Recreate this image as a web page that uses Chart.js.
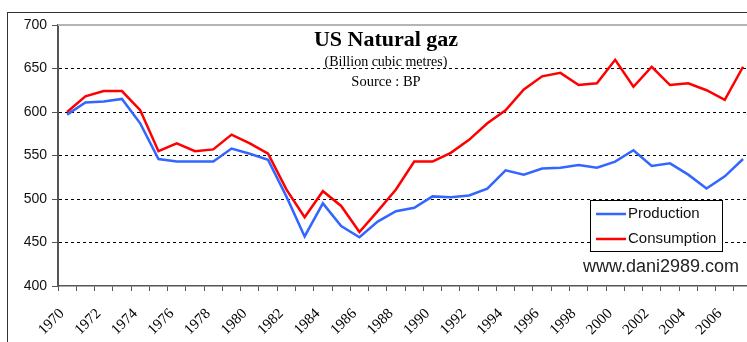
<!DOCTYPE html>
<html>
<head>
<meta charset="utf-8">
<script src="https://cdn.jsdelivr.net/npm/chart.js@4.4.1/dist/chart.umd.min.js"></script>
<style>
  html, body { margin: 0; padding: 0; background: #fff; }
  #wrap { width: 747px; height: 342px; overflow: hidden; }
  #chart { display: block; }
</style>
</head>
<body>
<div id="wrap"><canvas id="chart" width="770" height="342"></canvas></div>
<script>
const years = ['1970','1971','1972','1973','1974','1975','1976','1977','1978','1979',
               '1980','1981','1982','1983','1984','1985','1986','1987','1988','1989',
               '1990','1991','1992','1993','1994','1995','1996','1997','1998','1999',
               '2000','2001','2002','2003','2004','2005','2006','2007'];

// billion cubic metres
const production = [597, 611, 612, 615, 587, 546, 543, 543, 543, 558,
                    552, 545, 503, 457, 495, 469, 456, 474, 486, 490,
                    503, 502, 504, 512, 533, 528, 535, 536, 539, 536,
                    543, 556, 538, 541, 528, 512, 526, 546];

const consumption = [600, 618, 624, 624, 602, 555, 564, 555, 557, 574,
                     564, 552, 511, 479, 509, 492, 462, 486, 511, 543,
                     543, 553, 568, 587, 602, 626, 641, 645, 631, 633,
                     660, 629, 652, 631, 633, 625, 614, 652];

const yMin = 400;
const yMax = 700;
const yStep = 50;

const titleText = 'US Natural gaz';
const subtitleText = '(Billion cubic metres)';
const sourceText = 'Source : BP';
const siteText = 'www.dani2989.com';

const decorations = {
    id: 'decorations',
    beforeDraw(chart) {
        const ctx = chart.ctx;
        ctx.save();
        ctx.fillStyle = '#fff';
        ctx.fillRect(0, 0, chart.width, chart.height);
        ctx.strokeStyle = '#333';
        ctx.lineWidth = 1;
        ctx.strokeRect(7.5, 12.5, 758, 340);
        ctx.restore();
    },
    beforeDatasetsDraw(chart) {
        const ctx = chart.ctx;
        const a = chart.chartArea;
        ctx.save();
        ctx.strokeStyle = '#b4b4b4';
        ctx.lineWidth = 2;
        ctx.beginPath();
        ctx.moveTo(a.left, a.top);
        ctx.lineTo(a.right, a.top);
        ctx.lineTo(a.right, a.bottom);
        ctx.stroke();
        ctx.restore();
    },
    afterDraw(chart) {
        const ctx = chart.ctx;
        const cx = 386;
        ctx.save();
        ctx.textAlign = 'center';
        ctx.textBaseline = 'middle';
        ctx.fillStyle = '#000';
        ctx.font = 'bold 22px "Liberation Serif"';
        ctx.fillText(titleText, cx, 40);
        ctx.font = '14px "Liberation Serif"';
        ctx.fillText(subtitleText, cx, 62);
        ctx.font = '14.5px "Liberation Serif"';
        ctx.fillText(sourceText, cx, 82);

        // legend box
        ctx.fillStyle = '#fff';
        ctx.fillRect(590, 200, 132, 51);
        ctx.strokeStyle = '#000';
        ctx.lineWidth = 1;
        ctx.strokeRect(590.5, 200.5, 132, 51);
        ctx.textAlign = 'left';
        ctx.font = '15px "Liberation Sans"';
        chart.data.datasets.forEach((ds, i) => {
            const y = 214 + i * 25;
            ctx.strokeStyle = ds.borderColor;
            ctx.lineWidth = 2.5;
            ctx.beginPath();
            ctx.moveTo(596, y);
            ctx.lineTo(626, y);
            ctx.stroke();
            ctx.fillStyle = '#111';
            ctx.fillText(ds.label, 628, y);
        });

        ctx.font = '18px "Liberation Sans"';
        ctx.fillStyle = '#222';
        ctx.fillText(siteText, 583, 267);
        ctx.restore();
    }
};

const ctx = document.getElementById('chart').getContext('2d');
new Chart(ctx, {
    type: 'line',
    data: {
        labels: years,
        datasets: [{
            label: 'Production',
            data: production,
            borderColor: '#3366ff',
            borderWidth: 2.5,
            pointRadius: 0,
            tension: 0,
            fill: false
        }, {
            label: 'Consumption',
            data: consumption,
            borderColor: '#ff0000',
            borderWidth: 2.5,
            pointRadius: 0,
            tension: 0,
            fill: false
        }]
    },
    options: {
        responsive: false,
        animation: false,
        layout: { padding: { left: 0, top: 25, right: 16, bottom: 0 } },
        plugins: {
            legend: { display: false },
            tooltip: { enabled: false }
        },
        scales: {
            x: {
                offset: true,
                grid: {
                    offset: true,
                    drawOnChartArea: false,
                    drawTicks: true,
                    tickLength: 5,
                    tickColor: '#555'
                },
                border: { color: '#555', width: 1.5 },
                ticks: {
                    autoSkip: false,
                    minRotation: 45,
                    maxRotation: 45,
                    padding: 14,
                    labelOffset: -5,
                    color: '#000',
                    font: { family: '"Liberation Serif"', size: 15 },
                    callback: (val, i) => (i % 2 === 0 ? years[i] : '')
                },
                afterFit: scale => { scale.height = 56; }
            },
            y: {
                min: yMin,
                max: yMax,
                grid: {
                    color: c => (c.tick && (c.tick.value === yMin || c.tick.value === yMax)) ? 'rgba(0,0,0,0)' : '#000',
                    lineWidth: 1,
                    tickLength: 6,
                    tickColor: '#555'
                },
                border: { color: '#555', width: 2, dash: [3, 3] },
                ticks: {
                    stepSize: yStep,
                    padding: 5,
                    color: '#111',
                    font: { family: '"Liberation Sans"', size: 14 }
                },
                afterFit: scale => { scale.width = 58; }
            }
        }
    },
    plugins: [decorations]
});
</script>
</body>
</html>
